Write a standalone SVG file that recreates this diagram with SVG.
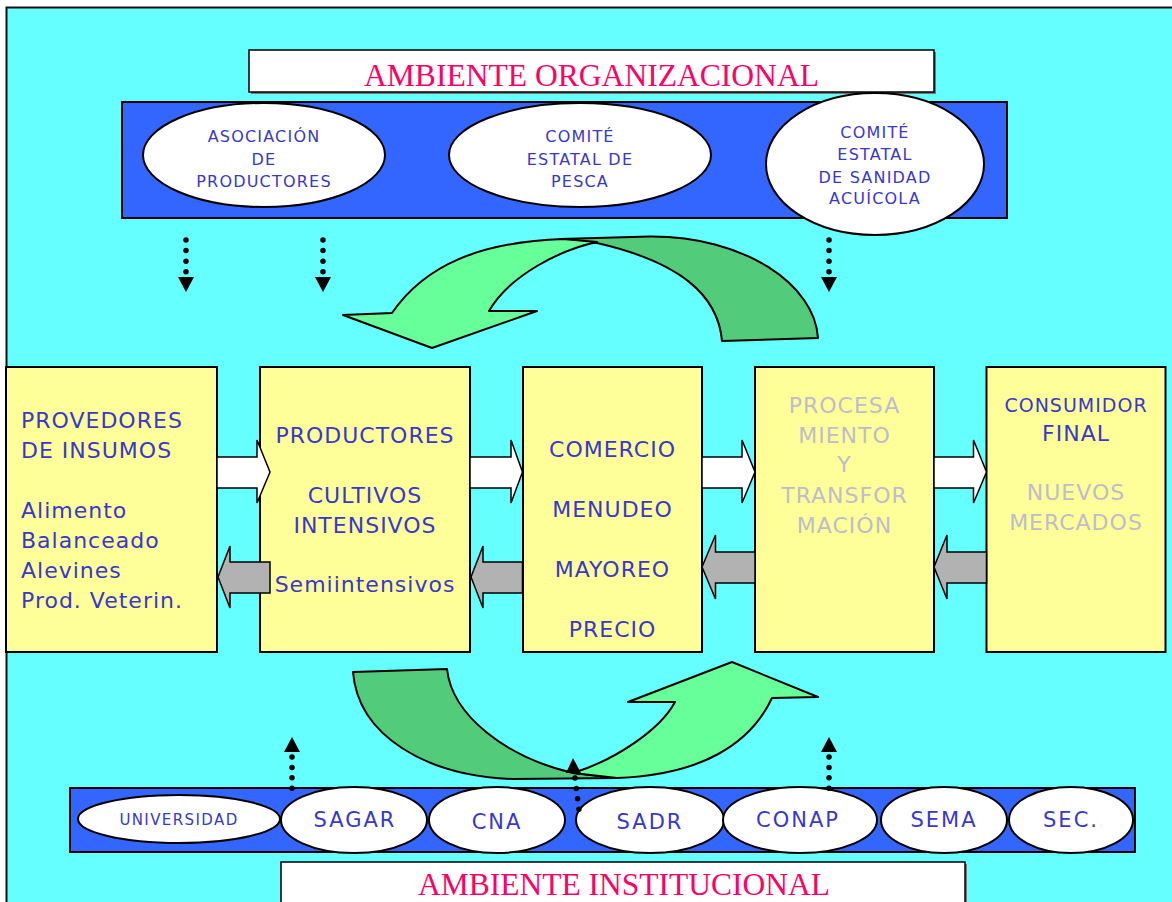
<svg xmlns="http://www.w3.org/2000/svg" width="1172" height="902" viewBox="0 0 1172 902">
<style>
.title{font-family:"Liberation Serif","Times New Roman",serif;font-size:31px;fill:#FF0066;text-anchor:middle}
.tb{fill:#fff;stroke:#000;stroke-width:1.5}
.band{fill:#3366FF;stroke:#000;stroke-width:2}
.ell{fill:#fff;stroke:#000;stroke-width:2}
.et{font-family:"DejaVu Sans",Verdana,sans-serif;font-size:16px;letter-spacing:1.2px;fill:#3838CC;text-anchor:middle}
.bt{font-family:"DejaVu Sans",Verdana,sans-serif;font-size:21px;letter-spacing:2px;fill:#3838CC;text-anchor:middle}
.box{fill:#FFFF99;stroke:#000;stroke-width:2}
.t{font-family:"DejaVu Sans",Verdana,sans-serif;font-size:22px;letter-spacing:1px;fill:#3838CC}
.c{text-anchor:middle}
.g{fill:#BDBDCB}
.wa{fill:#fff;stroke:#000;stroke-width:1.5;stroke-linejoin:miter}
.ga{fill:#B2B2B2;stroke:#000;stroke-width:1.5}
.lg{fill:#66FF99;stroke:#000;stroke-width:2;stroke-linejoin:round}
.dg{fill:#52CC7A;stroke:#000;stroke-width:2;stroke-linejoin:round}
.dot{stroke:#000;stroke-width:5.5;stroke-linecap:round;fill:none}
.ah{fill:#000}
</style>
<rect x="0" y="0" width="1172" height="902" fill="#fff"/>
<rect x="6.5" y="7.5" width="1180" height="910" fill="#66FFFF" stroke="#111" stroke-width="2"/>

<g id="titulo-organizacional">
<rect x="251" y="52" width="685" height="42" fill="#777"/>
<rect class="tb" x="249" y="50" width="685" height="42"/>
<text class="title" x="591.5" y="86" textLength="455" lengthAdjust="spacingAndGlyphs">AMBIENTE ORGANIZACIONAL</text>
</g>

<g id="ambiente-organizacional">
<rect class="band" x="122" y="102" width="885" height="116"/>
</g>
<g id="asociacion">
<ellipse class="ell" cx="264" cy="155" rx="121" ry="52"/>
<text class="et" x="264" y="141.5">ASOCIACIÓN</text>
<text class="et" x="264" y="165">DE</text>
<text class="et" x="264" y="187">PRODUCTORES</text>
</g>
<g id="comite-pesca">
<ellipse class="ell" cx="580" cy="155" rx="131" ry="52"/>
<text class="et" x="580" y="141.5">COMITÉ</text>
<text class="et" x="580" y="165">ESTATAL DE</text>
<text class="et" x="580" y="187">PESCA</text>
</g>
<g id="comite-sanidad">
<ellipse class="ell" cx="875" cy="164" rx="109" ry="71"/>
<text class="et" x="875" y="137.5">COMITÉ</text>
<text class="et" x="875" y="160">ESTATAL</text>
<text class="et" x="875" y="182.5">DE SANIDAD</text>
<text class="et" x="875" y="204">ACUÍCOLA</text>
</g>

<g id="flecha-curva-superior">
<path class="dg" d="M560,239 L650,236.5 C745,236 815,285 818,338 L722,341 C718,295 680,262 597,243 Z"/>
<path class="lg" d="M392,313 C425,265 480,242 563,239 L597,242 C560,250 510,275 489,311 L537,311 L432,348 L343,315 Z"/>
</g>

<g id="flecha-curva-inferior">
<path class="dg" d="M353,672 L447,669 C452,715 505,757 573,773 L617,778 L513,779 C425,776 358,735 353,672 Z"/>
<path class="lg" d="M573,773 C615,760 660,730 675,702 L628,702 L732,662 L818,697 L772,698 C750,745 700,775 617,778 Z"/>
</g>

<g id="proveedores">
<rect class="box" x="6" y="367" width="211" height="285"/>
<text class="t" x="21" y="428">PROVEDORES</text>
<text class="t" x="21" y="458">DE INSUMOS</text>
<text class="t" x="21" y="518">Alimento</text>
<text class="t" x="21" y="548">Balanceado</text>
<text class="t" x="21" y="578">Alevines</text>
<text class="t" x="21" y="608">Prod. Veterin.</text>
</g>
<g id="productores">
<rect class="box" x="260" y="367" width="210" height="285"/>
<text class="t c" x="365" y="443">PRODUCTORES</text>
<text class="t c" x="365" y="503">CULTIVOS</text>
<text class="t c" x="365" y="533">INTENSIVOS</text>
<text class="t c" x="365" y="592">Semiintensivos</text>
</g>
<g id="comercio">
<rect class="box" x="523" y="367" width="179" height="285"/>
<text class="t c" x="612.5" y="457">COMERCIO</text>
<text class="t c" x="612.5" y="517">MENUDEO</text>
<text class="t c" x="612.5" y="577">MAYOREO</text>
<text class="t c" x="612.5" y="637">PRECIO</text>
</g>
<g id="procesamiento">
<rect class="box" x="755" y="367" width="179" height="285"/>
<text class="t c g" x="844.5" y="413">PROCESA</text>
<text class="t c g" x="844.5" y="443">MIENTO</text>
<text class="t c g" x="844.5" y="472">Y</text>
<text class="t c g" x="844.5" y="503">TRANSFOR</text>
<text class="t c g" x="844.5" y="533">MACIÓN</text>
</g>
<g id="consumidor">
<rect class="box" x="986.5" y="367" width="179" height="285"/>
<text class="t c" x="1076" y="412" style="font-size:19px">CONSUMIDOR</text>
<text class="t c" x="1076" y="441">FINAL</text>
<text class="t c g" x="1076" y="500">NUEVOS</text>
<text class="t c g" x="1076" y="530">MERCADOS</text>
</g>

<g id="conectores">
<path class="wa" d="M217,457 L257,457 L257,440 L270,472 L257,503 L257,488 L217,488 Z"/>
<path class="wa" d="M470,457 L511,457 L511,440 L522.5,472 L511,503 L511,488 L470,488 Z"/>
<path class="wa" d="M702,457 L742,457 L742,440 L755,472 L742,503 L742,488 L702,488 Z"/>
<path class="wa" d="M934,457 L973.5,457 L973.5,440 L986.5,472 L973.5,503 L973.5,488 L934,488 Z"/>
<path class="ga" d="M270,562 L230,562 L230,546 L218,577 L230,608 L230,593 L270,593 Z"/>
<path class="ga" d="M522.5,562 L483,562 L483,546 L471,577 L483,608 L483,593 L522.5,593 Z"/>
<path class="ga" d="M755,552 L715.5,552 L715.5,535 L702,567 L715.5,599 L715.5,583 L755,583 Z"/>
<path class="ga" d="M986.5,552 L947,552 L947,535 L934,567 L947,599 L947,583 L986.5,583 Z"/>
<path class="dot" stroke-dasharray="0 10.6" d="M186,240 L186,273"/>
<path class="ah" d="M178,277 L194,277 L186,292 Z"/>
<path class="dot" stroke-dasharray="0 10.6" d="M323,240 L323,273"/>
<path class="ah" d="M315,277 L331,277 L323,292 Z"/>
<path class="dot" stroke-dasharray="0 10.6" d="M829,240 L829,273"/>
<path class="ah" d="M821,277 L837,277 L829,292 Z"/>
</g>

<g id="ambiente-institucional">
<rect class="band" x="70" y="788" width="1065" height="64"/>
</g>
<g id="universidad">
<ellipse class="ell" cx="179" cy="819" rx="101" ry="24"/>
<text class="et" x="179" y="825" style="font-size:15px;letter-spacing:1.4px">UNIVERSIDAD</text>
</g>
<g id="sagar">
<ellipse class="ell" cx="354" cy="820" rx="73" ry="33"/>
<text class="bt" x="355" y="827">SAGAR</text>
</g>
<g id="cna">
<ellipse class="ell" cx="497" cy="820" rx="68" ry="33"/>
<text class="bt" x="497" y="829">CNA</text>
</g>
<g id="sadr">
<ellipse class="ell" cx="650" cy="820" rx="74" ry="33"/>
<text class="bt" x="650" y="829">SADR</text>
</g>
<g id="conap">
<ellipse class="ell" cx="800" cy="820" rx="77" ry="33"/>
<text class="bt" x="798" y="827">CONAP</text>
</g>
<g id="sema">
<ellipse class="ell" cx="944" cy="820" rx="63" ry="33"/>
<text class="bt" x="944" y="827">SEMA</text>
</g>
<g id="sec">
<ellipse class="ell" cx="1071" cy="820" rx="62" ry="33"/>
<text class="bt" x="1071" y="827">SEC.</text>
</g>

<g id="conectores-inferiores">
<path class="dot" stroke-dasharray="0 10.4" d="M292,757 L292,789"/>
<path class="ah" d="M284,752 L300,752 L292,737 Z"/>
<path class="dot" stroke-dasharray="0 10.5" d="M575,778 L579,810"/>
<path class="ah" d="M566,773 L581,773 L573,758 Z"/>
<path class="dot" stroke-dasharray="0 10.4" d="M829,757 L829,789"/>
<path class="ah" d="M821,752 L837,752 L829,737 Z"/>
</g>

<g id="titulo-institucional">
<rect x="283" y="864" width="684" height="50" fill="#777"/>
<rect class="tb" x="281" y="862" width="684" height="50"/>
<text class="title" x="624" y="895" textLength="412" lengthAdjust="spacingAndGlyphs">AMBIENTE INSTITUCIONAL</text>
</g>
</svg>
